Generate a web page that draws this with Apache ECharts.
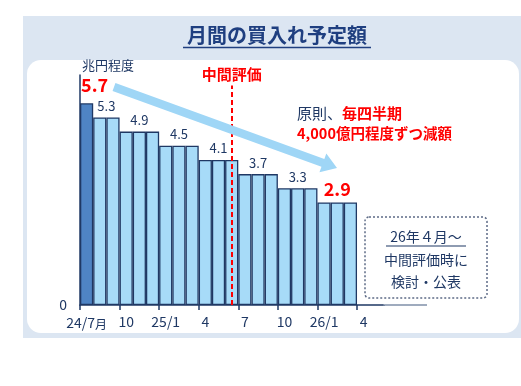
<!DOCTYPE html>
<html>
<head>
<meta charset="utf-8">
<script src="https://cdn.jsdelivr.net/npm/echarts@6/dist/echarts.min.js"></script>
<style>
html,body{margin:0;padding:0;background:#fff;}
#c{width:521px;height:386px;}
</style>
</head>
<body>
<div id="c"></div>
<script>
// ---- data ----
const months = ["2024-07","2024-08","2024-09","2024-10","2024-11","2024-12",
  "2025-01","2025-02","2025-03","2025-04","2025-05","2025-06",
  "2025-07","2025-08","2025-09","2025-10","2025-11","2025-12",
  "2026-01","2026-02","2026-03","2026-04","2026-05"];
const purchases = [5.7,5.3,5.3,4.9,4.9,4.9,4.5,4.5,4.5,4.1,4.1,4.1,
  3.7,3.7,3.7,3.3,3.3,3.3,2.9,2.9,2.9,null,null];
const tickLabels = ["24/7月","10","25/1","4","7","10","26/1","4"];
const yAxisName = "兆円程度";
const midReviewMonth = "2025-06";
const midReviewLabel = "中間評価";
const titleText = "月間の買入れ予定額";

const FONT = '"Noto Sans CJK JP","Noto Sans",sans-serif';
const NAVY = '#1f3864';
const RED = '#ff0000';
const LIGHT = '#a7dbf8';
const DARK = '#4f84c4';
const halfBar = 303.4 / months.length / 2;

// build bar items with group labels
const valid = purchases.filter(v => v != null);
const lastVal = valid[valid.length - 1];
const barData = [];
let i = 0;
while (i < purchases.length) {
  const v = purchases[i];
  if (v == null) { barData.push({value: null}); i++; continue; }
  let j = i;
  while (j + 1 < purchases.length && purchases[j + 1] === v) j++;
  const len = j - i + 1;
  const mid = i + Math.floor((len - 1) / 2);
  for (let k = i; k <= j; k++) {
    const item = {value: purchases[k]};
    if (k === 0) item.itemStyle = {color: DARK};
    if (k === mid) {
      const first = (i === 0);
      const last = (v === lastVal);
      item.label = {
        show: true,
        position: 'top',
        formatter: String(v.toFixed(1)),
        color: (first || last) ? RED : NAVY,
        fontSize: (first || last) ? 18 : 13,
        fontWeight: (first || last) ? 'bold' : 'normal',
        fontFamily: FONT,
        distance: first ? 9 : (last ? 4 : 5),
        offset: [first ? 8 : (len % 2 === 0 ? halfBar : 0), 0]
      };
    } else {
      item.label = {show: false};
    }
    barData.push(item);
  }
  i = j + 1;
}

// arrow geometry (decoration)
function arrowPoints(sx, sy, tx, ty, hw, headLen, headHw) {
  const dx = tx - sx, dy = ty - sy, L = Math.hypot(dx, dy);
  const ux = dx / L, uy = dy / L, nx = -uy, ny = ux;
  const bx = tx - headLen * ux, by = ty - headLen * uy;
  return [
    [sx - hw * nx, sy - hw * ny],
    [bx - hw * nx, by - hw * ny],
    [bx - headHw * nx, by - headHw * ny],
    [tx, ty],
    [bx + headHw * nx, by + headHw * ny],
    [bx + hw * nx, by + hw * ny],
    [sx + hw * nx, sy + hw * ny]
  ];
}

const chart = echarts.init(document.getElementById('c'), null, {renderer: 'canvas'});
chart.setOption({
  animation: false,
  textStyle: {fontFamily: FONT},
  grid: {left: 80, right: 137.6, top: 75, bottom: 81, containLabel: false},
  xAxis: {
    type: 'category',
    data: months,
    boundaryGap: true,
    axisLine: {show: true, lineStyle: {color: NAVY, width: 1.5}},
    axisTick: {show: true, alignWithLabel: false, length: 5,
      interval: (idx) => idx % 3 === 0, lineStyle: {color: NAVY, width: 1.5}},
    axisLabel: {
      interval: (idx) => idx % 3 === 0,
      formatter: (val, idx) => {
        const t = tickLabels[idx / 3] || '';
        return t.endsWith('月') ? t.slice(0, -1) + '{s|月}' : t;
      },
      color: NAVY, fontSize: 14, margin: 10, fontFamily: FONT,
      rich: {s: {fontSize: 12, color: NAVY, fontFamily: FONT, padding: [3, 0, 0, 0]}}
    },
    splitLine: {show: false}
  },
  yAxis: {
    type: 'value',
    min: 0, max: 6.5,
    name: yAxisName,
    nameLocation: 'end',
    nameGap: 3,
    nameTextStyle: {color: NAVY, fontSize: 13, align: 'left', fontFamily: FONT, padding: [0, 0, 0, 2]},
    axisLine: {show: true, lineStyle: {color: NAVY, width: 1.5}},
    axisTick: {show: false},
    splitLine: {show: false},
    axisLabel: {
      formatter: (v) => v === 0 ? '0' : '',
      color: NAVY, fontSize: 14, margin: 13, fontFamily: FONT
    }
  },
  series: [{
    type: 'bar',
    data: barData,
    barCategoryGap: '0%',
    itemStyle: {color: LIGHT, borderColor: NAVY, borderWidth: 1.3},
    markLine: {
      silent: true,
      symbol: 'none',
      lineStyle: {color: RED, type: [5, 3], width: 2},
      label: {show: true, position: 'end', formatter: midReviewLabel,
        color: RED, fontWeight: 'bold', fontSize: 15, fontFamily: FONT, distance: 4},
      data: [[{xAxis: midReviewMonth, yAxis: 0}, {xAxis: midReviewMonth, yAxis: 6.2}]]
    }
  }],
  graphic: [
    {type: 'rect', z: -20, silent: true, shape: {x: 23, y: 16, width: 498, height: 322},
      style: {fill: '#dce6f2'}},
    {type: 'rect', z: -19, silent: true, shape: {x: 27, y: 60, width: 492, height: 273, r: 14},
      style: {fill: '#ffffff'}},
    {type: 'text', z: 50, x: 277, y: 35, style: {text: titleText, fill: '#1f3f80',
      font: 'bold 20px ' + FONT, textAlign: 'center', textVerticalAlign: 'middle'}},
    {type: 'line', z: 50, shape: {x1: 183, y1: 47.5, x2: 371, y2: 47.5},
      style: {stroke: '#1f3f80', lineWidth: 1.5}},
    {type: 'polygon', z: 40, silent: true,
      shape: {points: arrowPoints(114, 87, 337, 168, 4.2, 15, 10)},
      style: {fill: '#9fd6f6'}},
    // hide the automatic end-of-axis tick
    {type: 'rect', z: 60, silent: true, shape: {x: 381, y: 306, width: 5, height: 7},
      style: {fill: '#ffffff'}},
    {type: 'line', z: 1, shape: {x1: 383, y1: 305, x2: 427, y2: 305},
      style: {stroke: '#7f8fa9', lineWidth: 1.5}},
    {type: 'text', z: 50, x: 297, y: 113, style: {
      text: '{n|原則、}{r|毎四半期}',
      textVerticalAlign: 'middle',
      rich: {
        n: {fill: NAVY, fontSize: 15, fontFamily: FONT},
        r: {fill: RED, fontSize: 15, fontWeight: 'bold', fontFamily: FONT}
      }}},
    {type: 'text', z: 50, x: 297, y: 133, style: {
      text: '4,000億円程度ずつ減額', fill: RED, font: 'bold 14.5px ' + FONT,
      textVerticalAlign: 'middle'}},
    {type: 'rect', z: 50, shape: {x: 365, y: 217, width: 122, height: 81, r: 4},
      style: {fill: 'none', stroke: '#5d6b86', lineWidth: 1.5, lineDash: [2, 2]}},
    {type: 'text', z: 50, x: 426, y: 237, style: {text: '26年４月～', fill: NAVY,
      font: '14px ' + FONT, textAlign: 'center', textVerticalAlign: 'middle'}},
    {type: 'line', z: 50, shape: {x1: 386, y1: 246, x2: 466, y2: 246},
      style: {stroke: NAVY, lineWidth: 1.2}},
    {type: 'text', z: 50, x: 426, y: 260, style: {text: '中間評価時に', fill: NAVY,
      font: '14px ' + FONT, textAlign: 'center', textVerticalAlign: 'middle'}},
    {type: 'text', z: 50, x: 426, y: 282, style: {text: '検討・公表', fill: NAVY,
      font: '14px ' + FONT, textAlign: 'center', textVerticalAlign: 'middle'}}
  ]
});
</script>
</body>
</html>
